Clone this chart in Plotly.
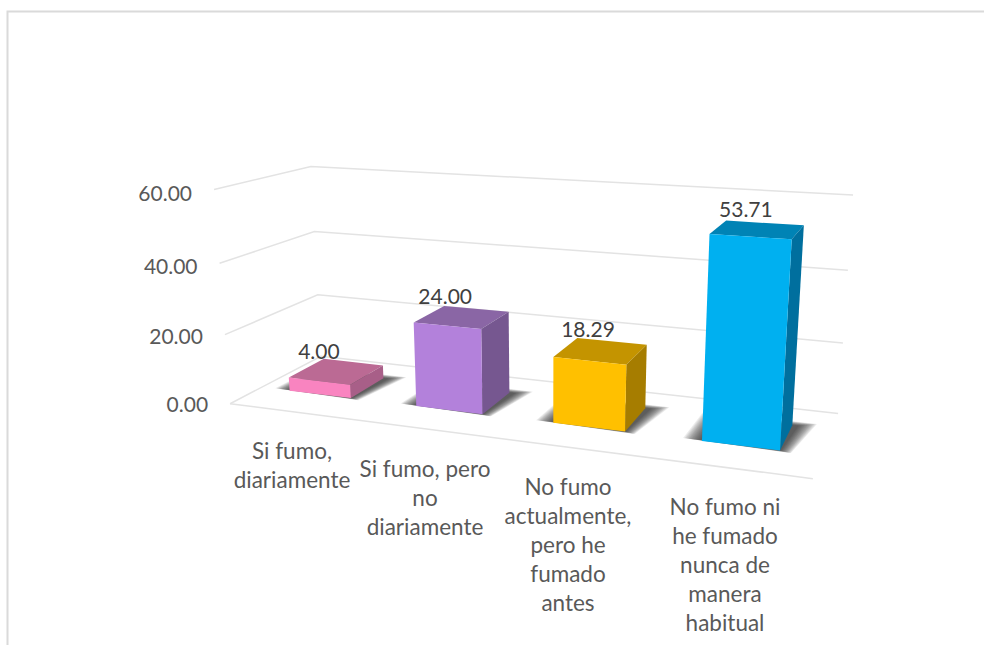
import numpy as np
import plotly.graph_objects as go

categories = ["Si fumo, diariamente", "Si fumo, pero no diariamente",
              "No fumo actualmente, pero he fumado antes",
              "No fumo ni he fumado nunca de manera habitual"]
category_lines = [["Si fumo,", "diariamente"], ["Si fumo, pero", "no", "diariamente"],
                  ["No fumo", "actualmente,", "pero he", "fumado", "antes"],
                  ["No fumo ni", "he fumado", "nunca de", "manera", "habitual"]]
values = [4.00, 24.00, 18.29, 53.71]
axis_ticks = [0, 20, 40, 60]
tick_labels = ["0.00", "20.00", "40.00", "60.00"]
front_colors = ["#F984C0", "#B381DB", "#FFC000", "#00B0F0"]
top_colors = ["#BB6A94", "#8A66A5", "#C49400", "#0083B5"]
side_colors = ["#A85F88", "#765790", "#A67D00", "#006F9E"]

# Calibration of the oblique view: (category axis 0-1, value axis 0-1, depth 0-1) -> page pixels
view_world = [(0,0,0),(1,0,0),(0,0,1),(1,0,1),(0,1,0),(0,1,1),(1,1,1)]
view_page = [(230,403),(813,479),(321,357),(838,413),(214,190),(311,166),(853,195)]
rows, rhs = [], []
for (X,Y,Z),(x,y) in zip(view_world, view_page):
    rows.append([X,Y,Z,1,0,0,0,0,-x*X,-x*Y,-x*Z]); rhs.append(x)
    rows.append([0,0,0,0,X,Y,Z,1,-y*X,-y*Y,-y*Z]); rhs.append(y)
p = np.linalg.lstsq(np.array(rows,float), np.array(rhs,float), rcond=None)[0]
P = np.append(p,1).reshape(3,4)

def proj(u, val, d):
    h = P @ np.array([u, val/60.0, d, 1.0])
    return h[0]/h[2], h[1]/h[2]

BAR_W = 0.124
D0, D1 = 0.32, 0.72
U_FIRST, U_STEP = 0.12, 0.2513
TEXT = "#595959"
FONT = "Lato"

fig = go.Figure()

def poly(pts, color, opacity=1.0):
    xs = [q[0] for q in pts]+[pts[0][0]]
    ys = [q[1] for q in pts]+[pts[0][1]]
    fig.add_trace(go.Scatter(x=xs, y=ys, mode="lines", fill="toself", fillcolor=color,
                             opacity=opacity, line=dict(width=0, color=color),
                             hoverinfo="skip", showlegend=False))

def line(pts, color="#E3E3E3", width=1.5):
    fig.add_trace(go.Scatter(x=[q[0] for q in pts], y=[q[1] for q in pts], mode="lines",
                             line=dict(color=color, width=width), hoverinfo="skip", showlegend=False))

def label(x, y, s, pos="middle center", size=21, color=TEXT):
    fig.add_trace(go.Scatter(x=[x], y=[y], mode="text", text=[s], textposition=pos,
                             textfont=dict(family=FONT, size=size, color=color),
                             hoverinfo="skip", showlegend=False))

# gridlines
for t in axis_ticks:
    line([proj(0,t,0), proj(0,t,1), proj(1,t,1)])
line([proj(0,0,0), proj(1,0,0)])

# axis labels
for t, s in zip(axis_ticks, tick_labels):
    x, y = proj(0,t,0)
    label(x-22, y+3+0.05*t, s, pos="middle left", size=21)

# bars
for i, v in enumerate(values):
    uc = U_FIRST + i*U_STEP
    u0, u1 = uc-BAR_W/2, uc+BAR_W/2
    for k in range(14):
        e = 0.0021*(14-k)
        poly([proj(u0-e-0.002,0,D0+0.012-e*0.1), proj(u1+e*0.6,0,D0-e*0.6),
              proj(u1+e+0.008,0,D1+e*2.2), proj(u0-e,0,D1+e*2.2)], "#262626", 0.085)
    poly([proj(u0,v,D0),proj(u1,v,D0),proj(u1,v,D1),proj(u0,v,D1)], top_colors[i])
    poly([proj(u1,0,D0),proj(u1,0,D1),proj(u1,v,D1),proj(u1,v,D0)], side_colors[i])
    poly([proj(u0,0,D0),proj(u1,0,D0),proj(u1,v,D0),proj(u0,v,D0)], front_colors[i])

# data labels
for i, v in enumerate(values):
    uc = U_FIRST + i*U_STEP
    lx = proj(uc,v,D0)[0] - 0.08*v
    ly = proj(uc-BAR_W/2,v,D1)[1] - 5 - 0.07*v
    label(lx, ly, f"{v:.2f}", size=21, color="#404040")

# category labels
cat_x = [292, 425, 568, 725]
cat_y = [453, 471, 489, 509]
for cx, cy, lines in zip(cat_x, cat_y, category_lines):
    for j, s in enumerate(lines):
        label(cx, cy+29.2*j, s, size=22.5)

# chart-area frame
line([(7.5,660),(7.5,11.5),(990,11.5)], color="#DADADA", width=2)

fig.update_layout(width=984, height=645, margin=dict(l=0,r=0,t=0,b=0),
                  paper_bgcolor="white", plot_bgcolor="white", showlegend=False,
                  xaxis=dict(range=[0,984], visible=False, fixedrange=True),
                  yaxis=dict(range=[645,0], visible=False, fixedrange=True))
fig.write_html("out.html", config=dict(displayModeBar=False),
               post_script="document.body.style.margin='0';document.body.style.overflow='hidden';")
